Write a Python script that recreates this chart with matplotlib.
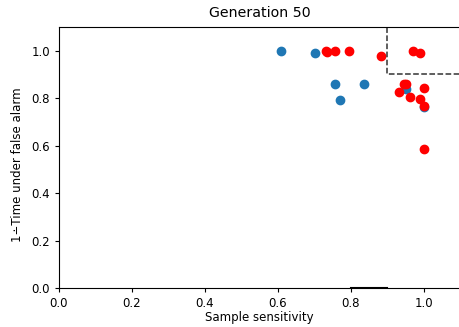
import matplotlib
matplotlib.use("Agg")
import matplotlib.pyplot as plt

blue_x = [0.608, 0.701, 0.756, 0.770, 0.836, 0.951, 0.999]
blue_y = [1.000, 0.992, 0.861, 0.793, 0.861, 0.838, 0.762]

red_x = [0.731, 0.735, 0.756, 0.795, 0.882, 0.969, 0.988, 0.945, 0.952,
         0.932, 0.999, 0.962, 0.988, 0.999, 0.999]
red_y = [0.997, 0.994, 0.997, 0.997, 0.976, 0.997, 0.990, 0.861, 0.861,
         0.827, 0.841, 0.805, 0.797, 0.765, 0.586]

box_x = [0.9, 0.9, 1.2]
box_y = [1.2, 0.9, 0.9]
base_x = [0.8, 0.9]
base_y = [0.0, 0.0]

plt.rcParams["font.size"] = 8.5
plt.rcParams["xtick.major.size"] = 3
plt.rcParams["ytick.major.size"] = 3

W, H = 460, 327
fig = plt.figure(figsize=(4.6, 3.27), dpi=100)
ax = fig.add_axes([59/W, 1 - 288/H, (460.5-59)/W, (288-27)/H])
ax.scatter(blue_x, blue_y, color="#1f77b4", s=36)
ax.scatter(red_x, red_y, color="red", s=36)
ax.plot(box_x, box_y, "--", color="#333333", linewidth=1.1)
ax.plot(base_x, base_y, "k-", linewidth=1.5)
ax.set_xlim(0, 1.1)
ax.set_ylim(0, 1.1)
ax.set_title("Generation 50", fontsize=10.2, pad=7)
ax.set_xlabel("Sample sensitivity", labelpad=0.5)
ax.set_ylabel("1\u2238Time under false alarm")
ax.yaxis.set_label_coords(-35/401.5, (288-164.5)/261)
fig.savefig("out.png", dpi=100)
